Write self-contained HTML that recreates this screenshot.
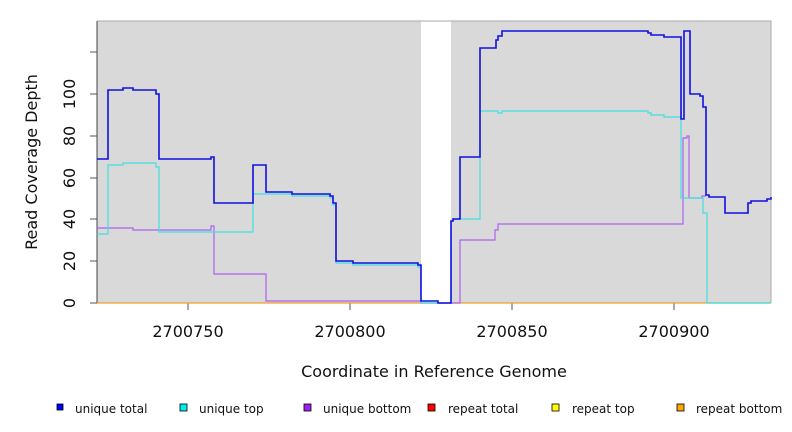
<!DOCTYPE html><html><head><meta charset="utf-8"><style>body{margin:0;background:#fff}svg{display:block;font-family:"DejaVu Sans","Liberation Sans",sans-serif}</style></head><body>
<svg width="792" height="432" viewBox="0 0 792 432" xmlns="http://www.w3.org/2000/svg">
<rect x="97" y="21" width="324" height="282" fill="#d9d9d9"/>
<rect x="451" y="21" width="320" height="282" fill="#d9d9d9"/>
<path d="M97 21H771V303M97 21V303" stroke="#aaa" fill="none"/>
<line x1="97" y1="21" x2="97" y2="303" stroke="#444"/>
<g stroke="#555"><line x1="90" y1="303" x2="97" y2="303"/><line x1="90" y1="261" x2="97" y2="261"/><line x1="90" y1="219" x2="97" y2="219"/><line x1="90" y1="178" x2="97" y2="178"/><line x1="90" y1="136" x2="97" y2="136"/><line x1="90" y1="94" x2="97" y2="94"/><line x1="90" y1="52" x2="97" y2="52"/>
<line x1="188" y1="303" x2="188" y2="310"/><line x1="350" y1="303" x2="350" y2="310"/><line x1="512" y1="303" x2="512" y2="310"/><line x1="674" y1="303" x2="674" y2="310"/></g>
<g font-size="16" fill="#111" text-anchor="middle">
<text transform="translate(75 303) rotate(-90)">0</text>
<text transform="translate(75 261) rotate(-90)">20</text>
<text transform="translate(75 219) rotate(-90)">40</text>
<text transform="translate(75 178) rotate(-90)">60</text>
<text transform="translate(75 136) rotate(-90)">80</text>
<text transform="translate(75 94) rotate(-90)">100</text>
<text x="188" y="337">2700750</text><text x="350" y="337">2700800</text><text x="512" y="337">2700850</text><text x="674" y="337">2700900</text>
<text transform="translate(37 162) rotate(-90)">Read Coverage Depth</text>
<text x="434" y="377">Coordinate in Reference Genome</text>
</g>
<line x1="97" y1="303" x2="771" y2="303" stroke="#f0a030" stroke-width="1.2"/>
<path d="M97 228H133V230H211V226H214V274H266V301H421V303H460V240H495V230H498V224H683V138H687V136H689V198H702V196H706" stroke="#b060ee" fill="none" stroke-width="1.2"/>
<path d="M97 234H108V165H123V163H156V167H159V232H253V194H292V196H330V198H333V205H336V263H353V265H418V267H421V303H451V221H453V219H480V111H498V113H502V111H648V113H651V115H664V117H681V198H703V213H707V303H771" stroke="#40e0e0" fill="none" stroke-width="1.2"/>
<path d="M97 159H108V90H123V88H133V90H156V94H159V159H211V157H214V203H253V165H266V192H292V194H330V196H333V203H336V261H353V263H418V265H421V301H438V303H451V221H453V219H460V157H480V48H496V40H498V36H502V31H648V33H651V35H664V37H681V119H684V31H687V31H690V94H700V96H703V107H706V195H709V197H725V213H748V203H751V201H767V199H771V197" stroke="#1010e0" fill="none" stroke-width="1.6"/>
<g stroke="#000" stroke-width="0.8">
<rect x="57" y="404" width="6" height="6" fill="#0000ff"/>
<rect x="180" y="404" width="7" height="7" fill="#00eeee"/>
<rect x="304" y="404" width="7" height="7" fill="#a020f0"/>
<rect x="428" y="404" width="7" height="7" fill="#ff0000"/>
<rect x="552" y="404" width="7" height="7" fill="#ffff00"/>
<rect x="677" y="404" width="7" height="7" fill="#ffa500"/>
</g>
<g font-size="12" fill="#111">
<text x="75" y="413">unique total</text><text x="199" y="413">unique top</text><text x="323" y="413">unique bottom</text><text x="448" y="413">repeat total</text><text x="572" y="413">repeat top</text><text x="696" y="413">repeat bottom</text>
</g>
</svg></body></html>
